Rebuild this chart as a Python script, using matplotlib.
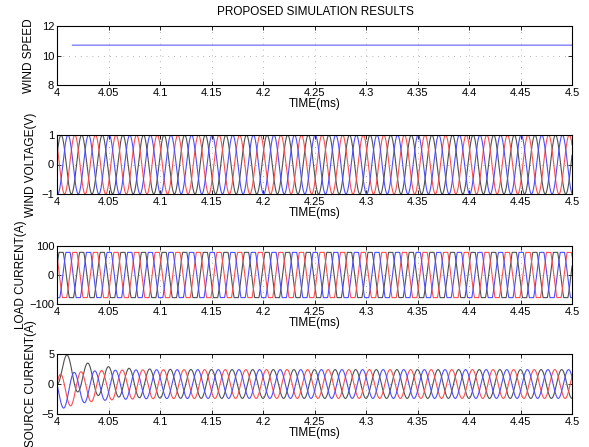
import numpy as np
import matplotlib
matplotlib.use("Agg")
import matplotlib.pyplot as plt

plt.rcParams["font.family"] = ["Liberation Sans", "DejaVu Sans"]
plt.rcParams["font.size"] = 8.5

# Tidsakse og kurveparametre lest av figuren
t_start, t_end = 4.0, 4.5
freq = 50.0
wind_speed = 10.7
wind_start = 4.015

phase_colors = ["black", "red", "blue"]
line_colors = {"black": "#505050", "red": "#ff4d4d", "blue": "#4d4dff"}

volt_amp = 1.0
volt_phase_deg = [18, 138, -102]

load_amp = 78.0
load_clip = 1.25
load_phase_deg = [18, 138, -102]

src_amp = 2.4
src_extra = 0.6
src_tau = 0.025
src_phase_deg = [-90, 30, 150]

xticks = [4, 4.05, 4.1, 4.15, 4.2, 4.25, 4.3, 4.35, 4.4, 4.45, 4.5]
xticklabels = ["4", "4.05", "4.1", "4.15", "4.2", "4.25", "4.3", "4.35", "4.4", "4.45", "4.5"]

t = np.linspace(t_start, t_end, 5000)
w = 2 * np.pi * freq
tt = t - t_start

fig = plt.figure(figsize=(5.89, 4.47), dpi=100)
left, width = 57 / 589, 515 / 589
ax1 = fig.add_axes([left, 1 - 85 / 447, width, 59 / 447])
ax2 = fig.add_axes([left, 1 - 194 / 447, width, 59 / 447])
ax3 = fig.add_axes([left, 1 - 304 / 447, width, 58 / 447])
ax4 = fig.add_axes([left, 1 - 414 / 447, width, 60 / 447])

# Vindhastighet
tw = t[t >= wind_start]
ax1.plot(tw, np.full_like(tw, wind_speed), color="#7070ff", lw=0.9)

# Spenning
for c, ph in zip(phase_colors, volt_phase_deg):
    v = volt_amp * np.sin(w * tt + np.deg2rad(ph))
    ax2.plot(t, v, color=line_colors[c], lw=0.8)

# Laststrom
for c, ph in zip(phase_colors, load_phase_deg):
    i = load_amp * np.clip(load_clip * np.sin(w * tt + np.deg2rad(ph)), -1, 1)
    ax3.plot(t, i, color=line_colors[c], lw=0.8)

# Kildestrom med innsvingning
env = src_amp + src_extra * np.exp(-tt / src_tau)
a0 = src_amp + src_extra
for c, ph in zip(phase_colors, src_phase_deg):
    p = np.deg2rad(ph)
    i = env * np.sin(w * tt + p) - a0 * np.sin(p) * np.exp(-tt / src_tau)
    ax4.plot(t, i, color=line_colors[c], lw=0.8)

setup = [
    (ax1, [8, 12], [8, 10, 12], "WIND SPEED", -0.043),
    (ax2, [-1, 1], [-1, 0, 1], "WIND VOLTAGE(V)", -0.039),
    (ax3, [-100, 100], [-100, 0, 100], "LOAD CURRENT(A)", -0.058),
    (ax4, [-5, 5], [-5, 0, 5], "SOURCE CURRENT(A)", -0.039),
]
for ax, ylim, yt, lab, lx in setup:
    ax.set_xlim(t_start, t_end)
    ax.set_ylim(ylim)
    ax.set_yticks(yt)
    ax.set_xticks(xticks)
    ax.set_xticklabels(xticklabels)
    ax.set_xlabel("TIME(ms)", labelpad=0)
    ax.set_ylabel(lab)
    ax.yaxis.set_label_coords(lx, 0.5)
    ax.tick_params(direction="in", top=True, right=True, length=3, width=0.6,
                   pad=2, labelsize=8)
    ax.grid(True, color="#999999", linestyle=(0, (1, 6)), linewidth=0.6)
    ax.set_axisbelow(True)
    for s in ax.spines.values():
        s.set_linewidth(0.8)

fig.text(315 / 589, 1 - 12 / 447, "PROPOSED SIMULATION RESULTS", ha="center", va="center")

fig.savefig("out.png", dpi=100)
